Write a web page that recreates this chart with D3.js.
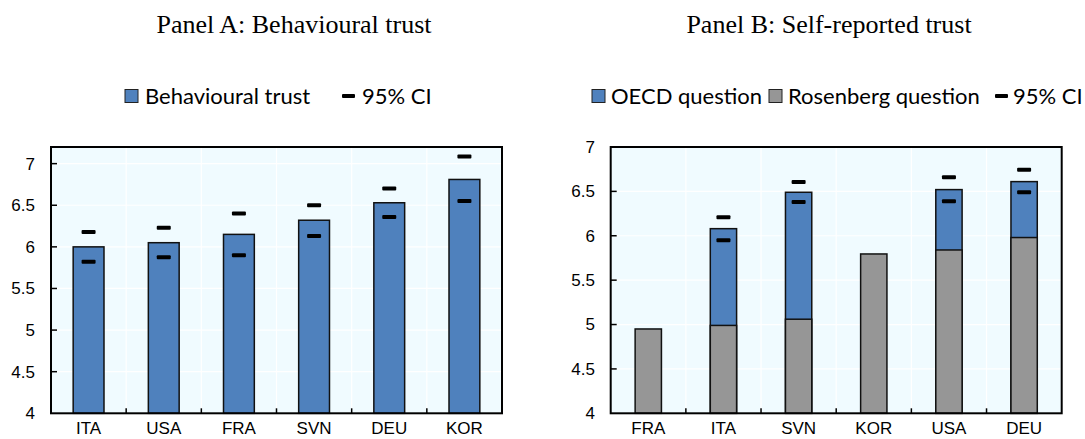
<!DOCTYPE html>
<html>
<head>
<meta charset="utf-8">
<script src="https://cdn.jsdelivr.net/npm/d3@7"></script>
<style>
  html, body { margin: 0; padding: 0; background: #fff; }
  svg { display: block; }
  .tick-label { font-family: "Liberation Sans Narrow", "Arial Narrow", "Liberation Sans", Arial, sans-serif; font-size: 17px; fill: #000; }
  .title { font-family: "Liberation Serif", "Times New Roman", serif; font-size: 26px; fill: #000; }
  .legend { font-family: Lato, "Open Sans", sans-serif; font-size: 22px; fill: #000; }
</style>
</head>
<body>
<svg id="chart" width="1085" height="439"></svg>
<script>
// ---------- Data ----------
const catsA = ["ITA", "USA", "FRA", "SVN", "DEU", "KOR"];
const behaviouralTrust = [6.00, 6.05, 6.15, 6.32, 6.53, 6.81];
const ciLowA = [5.82, 5.875, 5.90, 6.13, 6.36, 6.55];
const ciHighA = [6.18, 6.23, 6.40, 6.50, 6.70, 7.085];

const catsB = ["FRA", "ITA", "SVN", "KOR", "USA", "DEU"];
const oecdQuestion = [null, 6.08, 6.49, null, 6.52, 6.61];
const rosenbergQuestion = [4.95, 4.99, 5.06, 5.795, 5.84, 5.98];
const ciLowB = [null, 5.95, 6.38, null, 6.39, 6.49];
const ciHighB = [null, 6.21, 6.605, null, 6.66, 6.745];

const yTicks = [4, 4.5, 5, 5.5, 6, 6.5, 7];
const yTickLabels = ["4", "4.5", "5", "5.5", "6", "6.5", "7"];

const titleA = "Panel A: Behavioural trust";
const titleB = "Panel B: Self-reported trust";

// ---------- Style ----------
const BLUE = "#4f81bd";
const GREY = "#969696";
const BG = "#f0fbff";

const svg = d3.select("#chart");

function drawPanel(opts) {
  const { left, right, top, bottom, yDomain, cats, barRatio } = opts;
  const g = svg.append("g");
  const x = d3.scaleBand().domain(cats).range([left, right]).paddingInner(0).paddingOuter(0);
  const y = d3.scaleLinear().domain(yDomain).range([bottom, top]);

  g.append("rect").attr("x", left).attr("y", top).attr("width", right - left).attr("height", bottom - top).attr("fill", BG);

  g.selectAll(".hgrid").data(yTicks.filter(t => t > yDomain[0] && t < yDomain[1])).enter().append("line")
    .attr("x1", left).attr("x2", right).attr("y1", d => y(d)).attr("y2", d => y(d))
    .attr("stroke", "#ffffff").attr("stroke-width", 1.2);
  const bounds = cats.slice(1).map(c => x(c));
  g.selectAll(".vgrid").data(bounds).enter().append("line")
    .attr("x1", d => d).attr("x2", d => d).attr("y1", top).attr("y2", bottom)
    .attr("stroke", "#ffffff").attr("stroke-width", 1.2);

  const bw = x.bandwidth() * barRatio;
  const cx = c => x(c) + x.bandwidth() / 2;

  return { g, x, y, bw, cx, bounds, left, right, top, bottom };
}

function finishPanel(p, labelRight) {
  const { g, x, y, bounds, left, right, top, bottom } = p;
  g.selectAll(".xt").data(bounds).enter().append("line")
    .attr("x1", d => d).attr("x2", d => d).attr("y1", bottom).attr("y2", bottom - 5)
    .attr("stroke", "#000").attr("stroke-width", 1.5);
  const domain = y.domain();
  g.selectAll(".yt").data(yTicks.filter(t => t > domain[0] && t <= domain[1])).enter().append("line")
    .attr("x1", left).attr("x2", left + 6).attr("y1", d => y(d)).attr("y2", d => y(d))
    .attr("stroke", "#000").attr("stroke-width", 1.5);
  g.append("rect").attr("x", left).attr("y", top).attr("width", right - left).attr("height", bottom - top)
    .attr("fill", "none").attr("stroke", "#000").attr("stroke-width", 2);
  g.selectAll(".yl").data(yTicks).enter().append("text")
    .attr("class", "tick-label")
    .attr("x", labelRight).attr("y", d => y(d)).attr("dy", "0.35em")
    .attr("text-anchor", "end")
    .text((d, i) => yTickLabels[i]);
  g.selectAll(".xl").data(x.domain()).enter().append("text")
    .attr("class", "tick-label")
    .attr("x", d => x(d) + x.bandwidth() / 2).attr("y", 434)
    .attr("text-anchor", "middle")
    .text(d => d);
}

function drawCI(p, cats, lows, highs) {
  const pts = [];
  cats.forEach((c, i) => {
    if (lows[i] != null) pts.push({ c, v: lows[i] });
    if (highs[i] != null) pts.push({ c, v: highs[i] });
  });
  p.g.selectAll(".ci").data(pts).enter().append("rect")
    .attr("x", d => p.cx(d.c) - 7).attr("y", d => p.y(d.v) - 2)
    .attr("width", 14).attr("height", 4).attr("rx", 1)
    .attr("fill", "#000");
}

// ---------- Panel A ----------
const pA = drawPanel({ left: 51, right: 502, top: 147, bottom: 413.3, yDomain: [4, 7.2], cats: catsA, barRatio: 0.41 });
pA.g.selectAll(".barA").data(catsA).enter().append("rect")
  .attr("x", c => pA.cx(c) - pA.bw / 2)
  .attr("y", (c, i) => pA.y(behaviouralTrust[i]))
  .attr("width", pA.bw)
  .attr("height", (c, i) => pA.y(4) - pA.y(behaviouralTrust[i]))
  .attr("fill", BLUE).attr("stroke", "#111").attr("stroke-width", 1.5);
drawCI(pA, catsA, ciLowA, ciHighA);
finishPanel(pA, 35);

// ---------- Panel B ----------
const pB = drawPanel({ left: 610.7, right: 1061.7, top: 147, bottom: 413.3, yDomain: [4, 7], cats: catsB, barRatio: 0.35 });
const oecdData = catsB.map((c, i) => ({ c, v: oecdQuestion[i] })).filter(d => d.v != null);
pB.g.selectAll(".barO").data(oecdData).enter().append("rect")
  .attr("x", d => pB.cx(d.c) - pB.bw / 2)
  .attr("y", d => pB.y(d.v))
  .attr("width", pB.bw)
  .attr("height", d => pB.y(4) - pB.y(d.v))
  .attr("fill", BLUE).attr("stroke", "#111").attr("stroke-width", 1.5);
pB.g.selectAll(".barR").data(catsB).enter().append("rect")
  .attr("x", c => pB.cx(c) - pB.bw / 2)
  .attr("y", (c, i) => pB.y(rosenbergQuestion[i]))
  .attr("width", pB.bw)
  .attr("height", (c, i) => pB.y(4) - pB.y(rosenbergQuestion[i]))
  .attr("fill", GREY).attr("stroke", "#111").attr("stroke-width", 1.5);
drawCI(pB, catsB, ciLowB, ciHighB);
finishPanel(pB, 595);

// ---------- Titles ----------
svg.append("text").attr("class", "title").attr("x", 294).attr("y", 33).attr("text-anchor", "middle").text(titleA);
svg.append("text").attr("class", "title").attr("x", 829).attr("y", 33).attr("text-anchor", "middle").text(titleB);

// ---------- Legends ----------
function legendSquare(xp, color) {
  svg.append("rect").attr("x", xp).attr("y", 89.5).attr("width", 13).attr("height", 13)
    .attr("fill", color).attr("stroke", "#222").attr("stroke-width", 1);
}
function legendDash(xp) {
  svg.append("rect").attr("x", xp).attr("y", 94).attr("width", 13).attr("height", 4).attr("rx", 1).attr("fill", "#000");
}
function legendText(xp, t) {
  svg.append("text").attr("class", "legend").attr("x", xp).attr("y", 104).text(t);
}
legendSquare(125, BLUE); legendText(145, "Behavioural trust");
legendDash(342); legendText(362, "95% CI");

legendSquare(592, BLUE); legendText(611, "OECD question");
legendSquare(769, GREY); legendText(788, "Rosenberg question");
legendDash(995); legendText(1013, "95% CI");
</script>
</body>
</html>
